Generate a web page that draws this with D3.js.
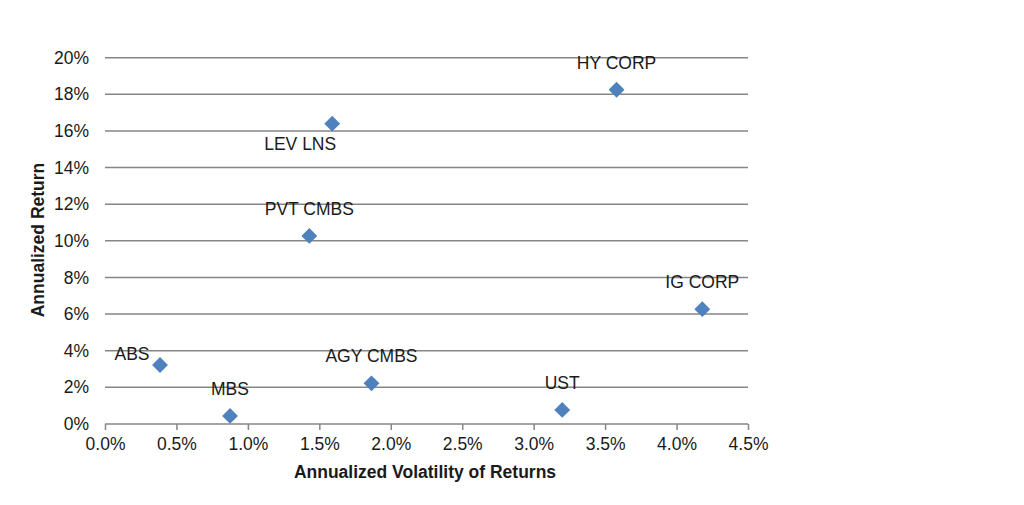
<!DOCTYPE html>
<html>
<head>
<meta charset="utf-8">
<script src="https://cdn.jsdelivr.net/npm/d3@7.9.0/dist/d3.min.js"></script>
<style>
  body { margin: 0; background: #fff; }
  svg { font-family: "Liberation Sans", Arial, sans-serif; }
</style>
</head>
<body>
<svg id="chart" width="1024" height="505"></svg>
<script>
// data
const names = ['HY CORP', 'LEV LNS', 'PVT CMBS', 'IG CORP', 'ABS', 'AGY CMBS', 'UST', 'MBS'];
const volatility = [3.58, 1.59, 1.43, 4.18, 0.385, 1.865, 3.20, 0.875];
const returns = [18.25, 16.4, 10.27, 6.27, 3.22, 2.22, 0.77, 0.44];
const xTicks = [0, 0.5, 1, 1.5, 2, 2.5, 3, 3.5, 4, 4.5];
const yTicks = [0, 2, 4, 6, 8, 10, 12, 14, 16, 18, 20];

// label placement (default: centred above the marker)
const labelShift = {
  'LEV LNS': { dx: -32, dy: 26 },
  'ABS': { dx: -28, dy: -5 }
};

const svg = d3.select('#chart');
const x = d3.scaleLinear().domain([0, 4.5]).range([105, 748]);
const y = d3.scaleLinear().domain([0, 20]).range([424, 57.7]);

// horizontal gridlines
svg.append('g')
  .selectAll('line')
  .data(yTicks.filter(d => d > 0))
  .join('line')
  .attr('x1', x(0)).attr('x2', x(4.5))
  .attr('y1', d => y(d)).attr('y2', d => y(d))
  .attr('stroke', '#868686').attr('stroke-width', 1.5);

// x axis
const xAxis = svg.append('g')
  .attr('transform', `translate(0,${y(0)})`)
  .call(d3.axisBottom(x).tickValues(xTicks).tickSize(6).tickPadding(8)
    .tickFormat(d => d.toFixed(1) + '%'));
xAxis.select('.domain').attr('stroke', '#868686').attr('stroke-width', 1.5)
  .attr('d', `M${x(0)},0H${x(4.5)}`);
xAxis.selectAll('.tick line').attr('stroke', '#868686').attr('stroke-width', 1.5);
xAxis.selectAll('.tick text').attr('font-size', 17.5).attr('fill', '#1a1a1a')
  .attr('font-family', '"Liberation Sans", Arial, sans-serif');

// y axis (labels only)
const yAxis = svg.append('g')
  .attr('transform', `translate(${x(0)},0)`)
  .call(d3.axisLeft(y).tickValues(yTicks).tickSize(0).tickPadding(16)
    .tickFormat(d => d + '%'));
yAxis.select('.domain').remove();
yAxis.selectAll('.tick text').attr('font-size', 17.5).attr('fill', '#1a1a1a')
  .attr('font-family', '"Liberation Sans", Arial, sans-serif');

// markers
svg.append('g')
  .selectAll('path')
  .data(names)
  .join('path')
  .attr('d', d3.symbol().type(d3.symbolDiamond2).size(160))
  .attr('transform', (d, i) => `translate(${x(volatility[i])},${y(returns[i])})`)
  .attr('fill', '#4f81bd');

// point labels
svg.append('g')
  .selectAll('text')
  .data(names)
  .join('text')
  .attr('x', (d, i) => x(volatility[i]) + (labelShift[d] ? labelShift[d].dx : 0))
  .attr('y', (d, i) => y(returns[i]) + (labelShift[d] ? labelShift[d].dy : -21))
  .attr('text-anchor', 'middle')
  .attr('font-size', 17.5)
  .attr('fill', '#1a1a1a')
  .text(d => d);

// axis titles
svg.append('text')
  .attr('x', 425).attr('y', 478)
  .attr('text-anchor', 'middle')
  .attr('font-size', 17.5).attr('font-weight', 'bold').attr('fill', '#1a1a1a')
  .text('Annualized Volatility of Returns');

svg.append('text')
  .attr('transform', 'translate(44,240) rotate(-90)')
  .attr('text-anchor', 'middle')
  .attr('font-size', 17.5).attr('font-weight', 'bold').attr('fill', '#1a1a1a')
  .text('Annualized Return');
</script>
</body>
</html>
